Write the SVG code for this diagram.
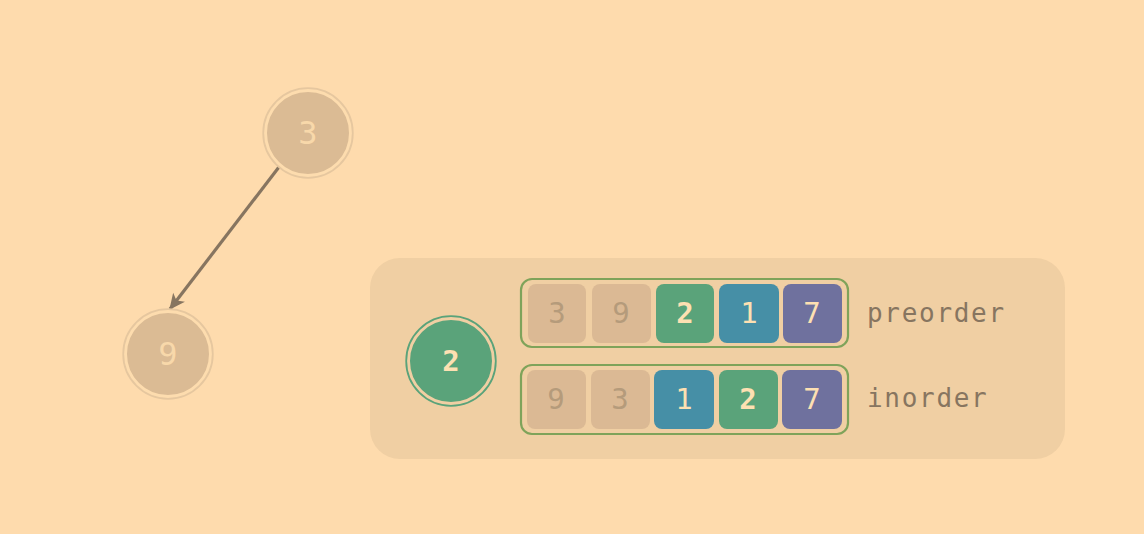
<svg xmlns="http://www.w3.org/2000/svg" width="1144" height="534" viewBox="0 0 1144 534">
<style>
.bg{fill:#fedbad}
.ring{fill:none;stroke-width:1.8}
.num{font-family:"DejaVu Sans Mono",monospace;font-size:29px;text-anchor:middle;dominant-baseline:central}
.big{font-size:32px}
.lbl{font-family:"DejaVu Sans Mono",monospace;font-size:26px;fill:#877560;letter-spacing:1.7px}
.cell{stroke:none}
.arr{fill:none;stroke:#7fa35a;stroke-width:2.2}
</style>
<defs>
<marker id="ah" viewBox="0 0 16 16" refX="15" refY="8" markerWidth="17" markerHeight="17" orient="auto" markerUnits="userSpaceOnUse">
<path d="M1,1 L16,8 L1,15 L5,8 Z" fill="#877560"/>
</marker>
</defs>
<rect class="bg" x="0" y="0" width="1144" height="534"/>
<g id="connectors">
<line x1="279" y1="167" x2="170" y2="309" stroke="#877560" stroke-width="3.2" marker-end="url(#ah)"/>
</g>
<g id="node-3">
<circle cx="308" cy="133" r="42.5" fill="#dbbb94" stroke="#fddcae" stroke-width="3"/>
<circle class="ring" cx="308" cy="133" r="44.8" stroke="#e6c79f"/>
<text class="num big" x="308" y="133" fill="#f8d8aa">3</text>
</g>
<g id="node-9">
<circle cx="168" cy="354" r="42.5" fill="#dbbb94" stroke="#fddcae" stroke-width="3"/>
<circle class="ring" cx="168" cy="354" r="44.8" stroke="#e6c79f"/>
<text class="num big" x="168" y="354" fill="#f8d8aa">9</text>
</g>
<g id="panel">
<rect x="370" y="258" width="695" height="201" rx="30" fill="#f0cfa3"/>
</g>
<g id="node-2">
<circle cx="451" cy="361" r="42.5" fill="#5aa37a" stroke="#f0cfa3" stroke-width="3"/>
<circle class="ring" cx="451" cy="361" r="44.8" stroke="#5aa37a"/>
<text class="num" x="451" y="361" fill="#fde0b2" font-weight="bold">2</text>
</g>
<g id="preorder">
<rect class="arr" x="521" y="279" width="327" height="68" rx="11"/>
<rect class="cell" x="528" y="284" width="58" height="59" rx="8" fill="#dbb994"/>
<rect class="cell" x="592" y="284" width="59" height="59" rx="8" fill="#dbb994"/>
<rect class="cell" x="656" y="284" width="58" height="59" rx="8" fill="#5aa37a"/>
<rect class="cell" x="719" y="284" width="60" height="59" rx="8" fill="#468fa6"/>
<rect class="cell" x="783" y="284" width="59" height="59" rx="8" fill="#6f719e"/>
<text class="num" x="557" y="313" fill="#b59b7b">3</text>
<text class="num" x="621" y="313" fill="#b59b7b">9</text>
<text class="num" x="685" y="313" fill="#fde0b2" font-weight="bold">2</text>
<text class="num" x="749" y="313" fill="#fde0b2">1</text>
<text class="num" x="812" y="313" fill="#fde0b2">7</text>
<text class="lbl" x="867" y="322">preorder</text>
</g>
<g id="inorder">
<rect class="arr" x="521" y="365" width="327" height="69" rx="11"/>
<rect class="cell" x="527" y="370" width="59" height="59" rx="8" fill="#dbb994"/>
<rect class="cell" x="591" y="370" width="59" height="59" rx="8" fill="#dbb994"/>
<rect class="cell" x="654" y="370" width="60" height="59" rx="8" fill="#468fa6"/>
<rect class="cell" x="719" y="370" width="59" height="59" rx="8" fill="#5aa37a"/>
<rect class="cell" x="782" y="370" width="60" height="59" rx="8" fill="#6f719e"/>
<text class="num" x="556" y="399" fill="#b59b7b">9</text>
<text class="num" x="620" y="399" fill="#b59b7b">3</text>
<text class="num" x="684" y="399" fill="#fde0b2">1</text>
<text class="num" x="748" y="399" fill="#fde0b2" font-weight="bold">2</text>
<text class="num" x="812" y="399" fill="#fde0b2">7</text>
<text class="lbl" x="867" y="407">inorder</text>
</g>
</svg>
